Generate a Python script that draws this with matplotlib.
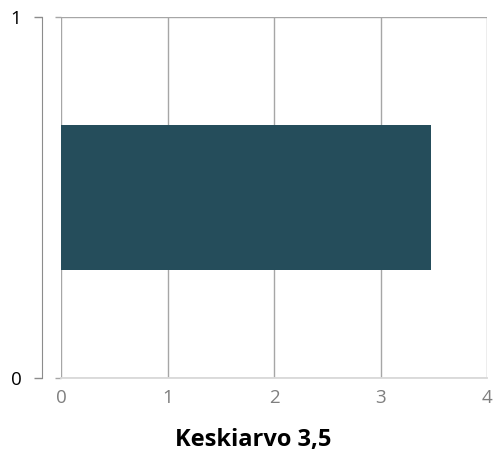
import matplotlib.pyplot as plt

# data
categories = [0.5]
values = [3.47]
x_ticks = [0, 1, 2, 3, 4]
y_ticks = [0, 1]
title = "Keskiarvo 3,5"

plt.rcParams["font.family"] = ["Open Sans", "DejaVu Sans"]

fig = plt.figure(figsize=(4.93, 4.55), dpi=100)
ax = fig.add_axes([61 / 493, 77 / 455, 426 / 493, 361 / 455])

ax.barh(categories, values, height=0.4, color="#254d5b", zorder=3)

ax.set_xlim(0, 4)
ax.set_ylim(0, 1)
ax.set_xticks(x_ticks)
ax.set_yticks(y_ticks)
ax.set_yticklabels([])
ax.grid(True, color="#a6a6a6", linewidth=1, zorder=0)
ax.tick_params(axis="x", length=0, labelsize=13.5, labelcolor="#7f7f7f", pad=8)
ax.tick_params(axis="y", length=4.3, color="#a6a6a6", width=1)
for s in ["left", "right", "top"]:
    ax.spines[s].set_visible(False)
ax.spines["bottom"].set_color("#d9d9d9")
ax.spines["bottom"].set_linewidth(1.3)

sec = ax.secondary_yaxis(-19 / 426)
sec.set_yticks(y_ticks)
sec.tick_params(length=5.8, color="#8c8c8c", width=1, labelsize=13.5, labelcolor="black", pad=9)
sec.spines["left"].set_color("#8c8c8c")

fig.text(253 / 493, 1 - 440 / 455, title, fontsize=17, fontweight="bold",
         ha="center", va="center")

fig.savefig("out.png", dpi=100)
